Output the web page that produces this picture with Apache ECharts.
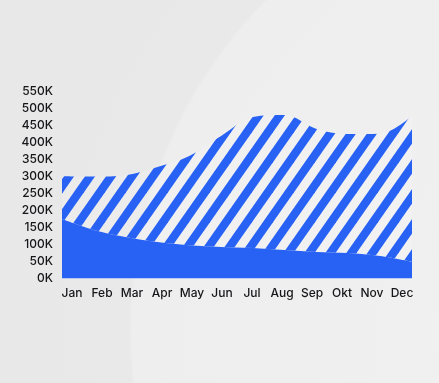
<!DOCTYPE html>
<html>
<head>
<meta charset="utf-8">
<script src="https://cdn.jsdelivr.net/npm/echarts@6/dist/echarts.min.js"></script>
<style>
  html, body { margin: 0; padding: 0; }
  body {
    width: 439px; height: 383px; overflow: hidden;
    background: radial-gradient(circle at 600px 330px, #f1f1f2 0, #eeeeef 468px, #e9e9ea 471px, #e8e8e9 100%);
  }
  #chart { width: 439px; height: 383px; }
</style>
</head>
<body>
<div id="chart"></div>
<script>
// months + values in thousands
const months = ['Jan', 'Feb', 'Mar', 'Apr', 'May', 'Jun', 'Jul', 'Aug', 'Sep', 'Okt', 'Nov', 'Dec'];
const baseValues = [175, 143, 122, 107, 98, 93, 90, 84, 78, 75, 66, 49];
const stripedValues = [126, 157, 182, 221, 262, 326, 385, 397, 362, 350, 360, 429];
const yTicks = [0, 50, 100, 150, 200, 250, 300, 350, 400, 450, 500, 550];

const blue = '#2762f5';

// diagonal stripe tile
function stripeTile() {
  const W = 21, H = 30;
  const c = document.createElement('canvas');
  c.width = W; c.height = H;
  const ctx = c.getContext('2d');
  ctx.fillStyle = 'rgba(255,255,255,0.15)';
  ctx.fillRect(0, 0, W, H);
  ctx.strokeStyle = blue;
  ctx.lineWidth = 8.3;
  for (let m = -1; m <= 2; m++) {
    const k = (m + 0.165) * W * H;
    const y0 = -H, y1 = 2 * H;
    ctx.beginPath();
    ctx.moveTo((k - y0 * W) / H, y0);
    ctx.lineTo((k - y1 * W) / H, y1);
    ctx.stroke();
  }
  return c;
}

const chart = echarts.init(document.getElementById('chart'));
const font = 'Inter, "Noto Sans", sans-serif';

chart.setOption({
  animation: false,
  grid: [
    { left: 62, right: 27, top: 91.5, bottom: 104.5 },
    { left: 72, right: 37, top: 91.5, bottom: 104.5 }
  ],
  xAxis: [
    {
      type: 'category', gridIndex: 0, data: months, boundaryGap: false,
      axisLine: { show: false }, axisTick: { show: false }, axisLabel: { show: false },
      splitLine: { show: false }
    },
    {
      type: 'category', gridIndex: 1, data: months, boundaryGap: false,
      axisLine: { show: false }, axisTick: { show: false }, splitLine: { show: false },
      axisLabel: { margin: 9, color: '#161618', fontSize: 12, fontWeight: 500, fontFamily: font, interval: 0 }
    }
  ],
  yAxis: [
    {
      type: 'value', gridIndex: 0, min: yTicks[0], max: yTicks[yTicks.length - 1], interval: 50,
      axisLine: { show: false }, axisTick: { show: false }, splitLine: { show: false },
      axisLabel: {
        margin: 9, color: '#161618', fontSize: 12, fontWeight: 500, fontFamily: font,
        padding: [0, 0, 6, 0],
        formatter: v => v + 'K'
      }
    },
    { type: 'value', gridIndex: 1, show: false }
  ],
  series: [
    {
      type: 'line', xAxisIndex: 0, yAxisIndex: 0, stack: 'total', data: baseValues,
      smooth: 0.35, showSymbol: false, lineStyle: { width: 0 },
      areaStyle: { color: blue, opacity: 1 }
    },
    {
      type: 'line', xAxisIndex: 0, yAxisIndex: 0, stack: 'total', data: stripedValues,
      smooth: 0.35, showSymbol: false, lineStyle: { width: 0 },
      areaStyle: { color: { image: stripeTile(), repeat: 'repeat' }, opacity: 1 }
    }
  ]
});
</script>
</body>
</html>
